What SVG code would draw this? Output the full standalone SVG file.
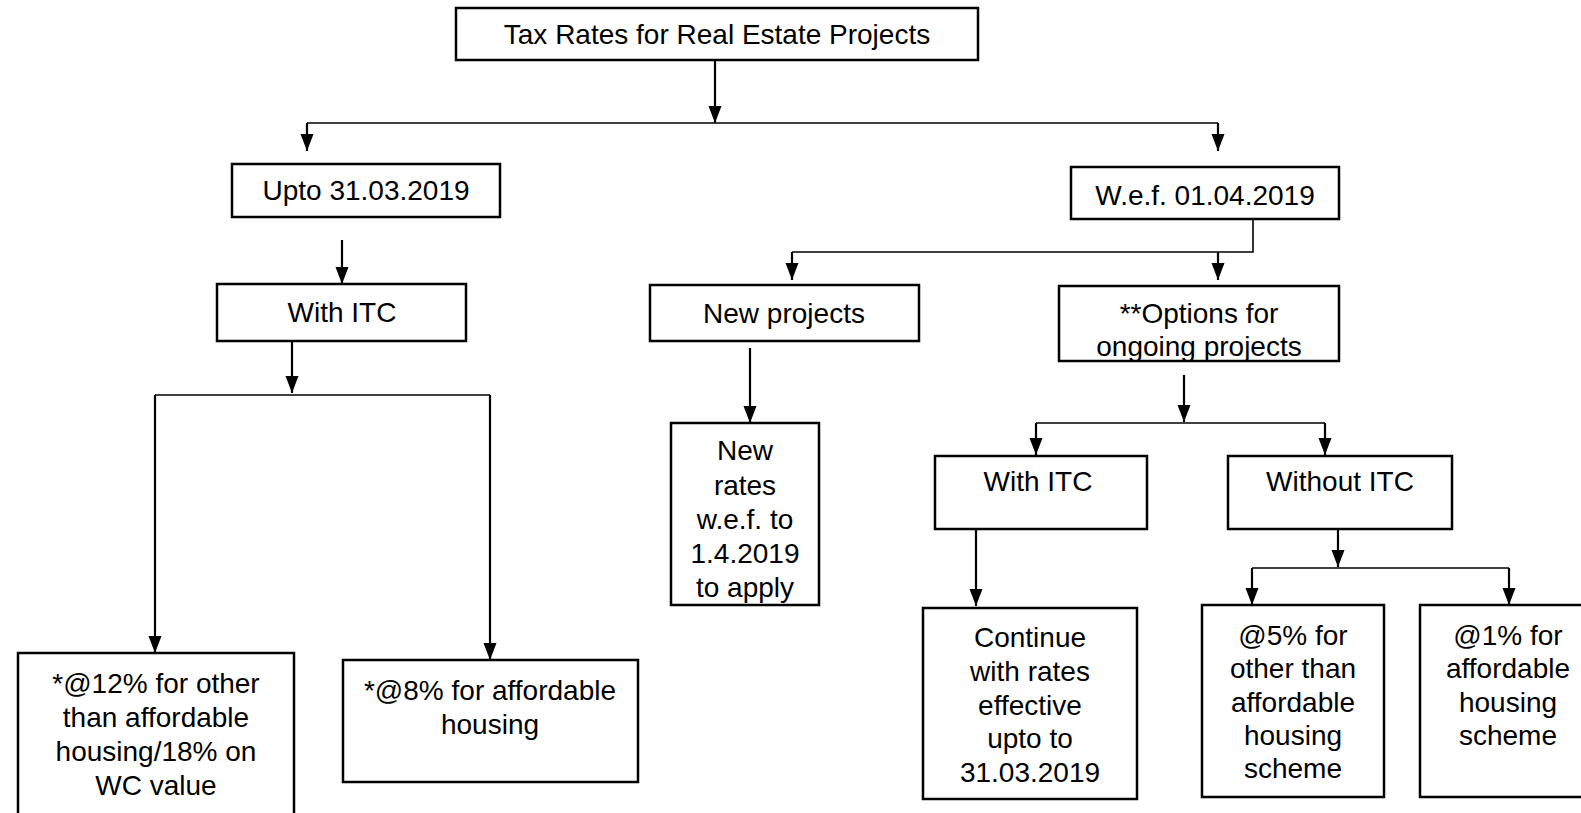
<svg xmlns="http://www.w3.org/2000/svg" width="1581" height="813" viewBox="0 0 1581 813">
<style>
.box{fill:#fff;stroke:#000;stroke-width:2.5}
.t{font-family:"Liberation Sans",Arial,sans-serif;font-size:28px;fill:#000;text-anchor:middle}
.c{fill:none;stroke:#000;stroke-width:1.6}
.a{fill:none;stroke:#000;stroke-width:2.2;marker-end:url(#ah)}
</style>
<defs>
<marker id="ah" markerUnits="userSpaceOnUse" markerWidth="18" markerHeight="14" refX="17" refY="7" orient="auto" viewBox="0 0 18 14">
<path d="M0,0.5 L17,7 L0,13.5 Z" fill="#000"/>
</marker>
</defs>
<rect width="1581" height="813" fill="#fff"/>
<g id="connectors">
<line class="a" x1="715" y1="61" x2="715" y2="123"/>
<line class="c" x1="307" y1="123" x2="1218" y2="123"/>
<line class="a" x1="307" y1="123" x2="307" y2="151"/>
<line class="a" x1="1218" y1="123" x2="1218" y2="151"/>
<line class="a" x1="342" y1="240" x2="342" y2="284"/>
<line class="a" x1="292" y1="341" x2="292" y2="393"/>
<line class="c" x1="155" y1="395" x2="490" y2="395"/>
<line class="a" x1="155" y1="395" x2="155" y2="653"/>
<line class="a" x1="490" y1="395" x2="490" y2="660"/>
<polyline class="c" points="1253,219 1253,252 792,252"/>
<line class="a" x1="792" y1="252" x2="792" y2="280"/>
<line class="a" x1="1218" y1="252" x2="1218" y2="280"/>
<line class="a" x1="750" y1="348" x2="750" y2="423"/>
<line class="a" x1="1184" y1="375" x2="1184" y2="422"/>
<line class="c" x1="1036" y1="423" x2="1325" y2="423"/>
<line class="a" x1="1036" y1="423" x2="1036" y2="455"/>
<line class="a" x1="1325" y1="423" x2="1325" y2="455"/>
<line class="a" x1="976" y1="529" x2="976" y2="606"/>
<line class="a" x1="1338" y1="529" x2="1338" y2="567"/>
<line class="c" x1="1252" y1="568" x2="1509" y2="568"/>
<line class="a" x1="1252" y1="568" x2="1252" y2="605"/>
<line class="a" x1="1509" y1="568" x2="1509" y2="605"/>
</g>
<g id="n-title"><rect class="box" x="456" y="8" width="522" height="52"/><text class="t" x="717" y="44">Tax Rates for Real Estate Projects</text></g>
<g id="n-upto"><rect class="box" x="232" y="164" width="268" height="53"/><text class="t" x="366" y="200">Upto 31.03.2019</text></g>
<g id="n-wef"><rect class="box" x="1071" y="167" width="268" height="52"/><text class="t" x="1205" y="205">W.e.f. 01.04.2019</text></g>
<g id="n-withitc1"><rect class="box" x="217" y="284" width="249" height="57"/><text class="t" x="342" y="322">With ITC</text></g>
<g id="n-12"><rect class="box" x="18" y="653" width="276" height="165"/><text class="t" x="156" y="693">*@12% for other</text><text class="t" x="156" y="727">than affordable</text><text class="t" x="156" y="761">housing/18% on</text><text class="t" x="156" y="795">WC value</text></g>
<g id="n-8"><rect class="box" x="343" y="660" width="295" height="122"/><text class="t" x="490" y="700">*@8% for affordable</text><text class="t" x="490" y="734">housing</text></g>
<g id="n-new"><rect class="box" x="650" y="285" width="269" height="56"/><text class="t" x="784" y="323">New projects</text></g>
<g id="n-newrates"><rect class="box" x="671" y="423" width="148" height="182"/><text class="t" x="745" y="460">New</text><text class="t" x="745" y="495">rates</text><text class="t" x="745" y="529">w.e.f.  to</text><text class="t" x="745" y="563">1.4.2019</text><text class="t" x="745" y="597">to apply</text></g>
<g id="n-options"><rect class="box" x="1059" y="286" width="280" height="75"/><text class="t" x="1199" y="323">**Options for</text><text class="t" x="1199" y="356">ongoing projects</text></g>
<g id="n-withitc2"><rect class="box" x="935" y="456" width="212" height="73"/><text class="t" x="1038" y="491">With ITC</text></g>
<g id="n-without"><rect class="box" x="1228" y="456" width="224" height="73"/><text class="t" x="1340" y="491">Without ITC</text></g>
<g id="n-continue"><rect class="box" x="923" y="608" width="214" height="191"/><text class="t" x="1030" y="647">Continue</text><text class="t" x="1030" y="681">with rates</text><text class="t" x="1030" y="715">effective</text><text class="t" x="1030" y="748">upto to</text><text class="t" x="1030" y="782">31.03.2019</text></g>
<g id="n-5"><rect class="box" x="1202" y="605" width="182" height="192"/><text class="t" x="1293" y="645">@5% for</text><text class="t" x="1293" y="678">other than</text><text class="t" x="1293" y="712">affordable</text><text class="t" x="1293" y="745">housing</text><text class="t" x="1293" y="778">scheme</text></g>
<g id="n-1"><rect class="box" x="1420" y="605" width="175" height="192"/><text class="t" x="1508" y="645">@1% for</text><text class="t" x="1508" y="678">affordable</text><text class="t" x="1508" y="712">housing</text><text class="t" x="1508" y="745">scheme</text></g>
</svg>
